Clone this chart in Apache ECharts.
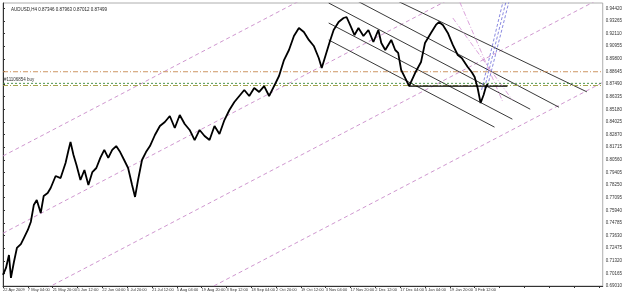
<!DOCTYPE html>
<html><head><meta charset="utf-8">
<script src="https://cdn.jsdelivr.net/npm/echarts@6/dist/echarts.min.js"></script>
<style>html,body{margin:0;padding:0;background:#fff}#c{width:625px;height:292px}</style>
</head><body><div id="c"></div>
<script>
// ---- data ----
const title = "AUDUSD,H4 0.87346 0.87963 0.87012 0.87499";
const dateLabels = ["22 Apr 2009","7 May 04:00","21 May 20:00","5 Jun 12:00","22 Jun 04:00","6 Jul 20:00","21 Jul 12:00","5 Aug 04:00","19 Aug 20:00","3 Sep 12:00","18 Sep 04:00","2 Oct 20:00","19 Oct 12:00","3 Nov 04:00","17 Nov 20:00","2 Dec 12:00","17 Dec 04:00","5 Jan 04:00","19 Jan 20:00","3 Feb 12:00"];
// time index (sample position) and price
const priceT = [0,3,6,8,11,14,18,21,25,28,31,34,38,41,45,48,53,58,63,66,68,71,74,78,82,86,90,94,98,102,106,110,114,118,122,126,130,133,136,140,144,148,153,158,163,168,173,178,183,188,193,198,203,208,213,218,223,228,233,238,243,248,253,258,263,268,273,278,283,288,293,298,303,308,313,318,321,325,329,333,338,343,346,350,354,358,363,368,373,378,381,385,391,395,398,401,405,409,415,421,425,431,436,439,443,448,453,458,462,468,472,475,478,481,484,486,488];
const priceV = [0.7002,0.7066,0.7185,0.6975,0.7121,0.7249,0.7285,0.7340,0.7414,0.7487,0.7642,0.7688,0.7569,0.7725,0.7752,0.7798,0.7908,0.7889,0.8027,0.8146,0.8219,0.8100,0.8008,0.7871,0.7963,0.7825,0.7944,0.7981,0.8073,0.8146,0.8073,0.8146,0.8182,0.8127,0.8054,0.7981,0.7825,0.7716,0.7871,0.8054,0.8127,0.8182,0.8283,0.8365,0.8402,0.8457,0.8347,0.8466,0.8384,0.8329,0.8237,0.8329,0.8274,0.8237,0.8365,0.8292,0.8420,0.8512,0.8585,0.8640,0.8695,0.8640,0.8713,0.8677,0.8731,0.8640,0.8731,0.8823,0.8969,0.9061,0.9189,0.9262,0.9226,0.9153,0.9098,0.8988,0.8896,0.9015,0.9134,0.9244,0.9317,0.9354,0.9363,0.9281,0.9198,0.9262,0.9189,0.9244,0.9134,0.9244,0.9125,0.9061,0.9153,0.9061,0.9034,0.8878,0.8805,0.8731,0.8850,0.8951,0.9125,0.9217,0.9290,0.9317,0.9290,0.9217,0.9107,0.9015,0.8988,0.8905,0.8860,0.8814,0.8713,0.8576,0.8649,0.8713,0.8750];
const currentPrice = 0.87499;
const orderLabel = "#11106854 buy";
// drawn objects: [t1, v1, t2, v2]
const pinkChannel = [[0,0.8091,420,1.0089],[0,0.7384,452,0.9537],[0,0.6671,610,0.9573],[0,0.5891,610,0.8793]];
const blackChannel = [[393,0.9528,588,0.8678],[353,0.9528,560,0.8537],[328,0.9491,531,0.8519],[328,0.9308,513,0.8428],[328,0.9153,495,0.8355]];
const neckline = [409,0.8731,508,0.8731];
const blueLines = [[482,0.8695,504,0.9519],[485,0.8713,507,0.9519],[488,0.8731,510,0.9519]];
const pinkFan = [[453,0.9354,513,0.8603],[460,0.9500,503,0.8594]];
const hLevels = [0.8862,0.8756,0.8736];

// ---- chart ----
const FONT = 'Liberation Sans';
const chart = echarts.init(document.getElementById('c'), null, {renderer:'canvas'});
const seg = (s, color, width, type, z) => ({type:'line', data:[[s[0],s[1]],[s[2],s[3]]], showSymbol:false, silent:true, animation:false, z:z||2, lineStyle:{color, width, type}});
const series = [];
pinkChannel.forEach(s => series.push(seg(s,'#c98bc9',0.9,[4,3])));
blackChannel.forEach(s => series.push(seg(s,'#222',0.9,'solid')));
blueLines.forEach(s => series.push(seg(s,'#6b6bd8',0.8,[3,2])));
pinkFan.forEach(s => series.push(seg(s,'#d08ad0',0.8,[5,2,1,2])));
series.push({type:'line', data:[[0,hLevels[0]],[604,hLevels[0]]], showSymbol:false, animation:false, lineStyle:{color:'#c88a50',width:0.9,type:[5,2,1,2]}});
series.push({type:'line', data:[[0,hLevels[1]],[604,hLevels[1]]], showSymbol:false, animation:false, lineStyle:{color:'#3c8a3c',width:0.9,type:[2,2]}});
series.push({type:'line', data:[[0,hLevels[2]],[604,hLevels[2]]], showSymbol:false, animation:false, lineStyle:{color:'#9a9a3a',width:0.9,type:[5,2,1,2]},
  markPoint:{symbol:'rect', symbolSize:0, data:[{coord:[1,hLevels[2]], label:{show:true, formatter:orderLabel, position:'top', align:'left', fontSize:4.5, color:'#333', fontFamily:FONT, offset:[0,2]}}]}});
series.push(seg(neckline,'#000',1.3,'solid',4));
series.push({type:'line', data:priceT.map((t,i)=>[t,priceV[i]]), showSymbol:false, animation:false, z:5, lineStyle:{color:'#000',width:1.8},
  markLine:{silent:true, symbol:'none', lineStyle:{opacity:0}, data:[{yAxis:currentPrice}],
    label:{position:'end', formatter:(p)=>p.value.toFixed(5), backgroundColor:'#000', color:'#fff', fontSize:4.5, padding:[1,1], distance:2, fontFamily:FONT}}});

chart.setOption({
  animation:false,
  title:{text:title, left:6, top:2, textStyle:{fontSize:4.5, fontWeight:'normal', color:'#222', fontFamily:FONT}},
  grid:{left:2, right:19, top:3, bottom:6, show:true, borderColor:'#999', borderWidth:0.8},
  xAxis:{type:'value', min:0, max:604, interval:25, axisLine:{lineStyle:{color:'#333'}}, axisTick:{length:2, lineStyle:{color:'#333'}}, splitLine:{show:false},
    axisLabel:{fontSize:4, color:'#333', align:'left', margin:2, fontFamily:FONT, showMinLabel:true, showMaxLabel:false, hideOverlap:false, formatter:(v)=>{const i=Math.round(v/25); return dateLabels[i]||'';}}},
  yAxis:{type:'value', position:'right', min:0.6901, max:0.94911, interval:0.01155, axisLine:{show:true, lineStyle:{color:'#333'}}, axisTick:{show:true,length:2, lineStyle:{color:'#333'}}, splitLine:{show:false},
    axisLabel:{fontSize:4.5, color:'#333', margin:3, showMaxLabel:false, fontFamily:FONT, formatter:(v)=>v.toFixed(5)}},
  series
});
</script></body></html>
